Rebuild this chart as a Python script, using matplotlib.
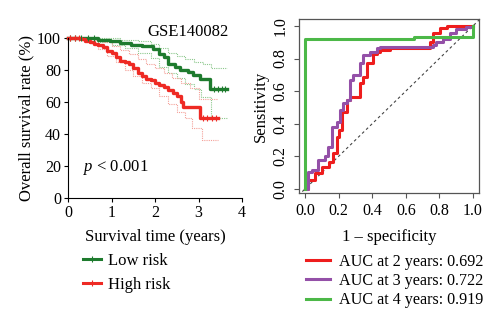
import numpy as np
import matplotlib
matplotlib.use("Agg")
import matplotlib.pyplot as plt
from matplotlib.lines import Line2D

plt.rcParams["font.family"] = ["Liberation Serif", "DejaVu Serif"]
plt.rcParams["font.size"] = 11.5
plt.rcParams["mathtext.fontset"] = "custom"
plt.rcParams["mathtext.it"] = "Liberation Serif:italic"
plt.rcParams["mathtext.rm"] = "Liberation Serif"

# Kaplan-Meier curves (years, % surviving)
low_t = [0, 0.7, 0.97, 1.2, 1.45, 1.7, 1.96, 2.1, 2.2, 2.3, 2.45, 2.57, 2.75, 2.88, 3.03, 3.26, 3.65]
low_s = [100, 99, 98, 97, 96, 95, 93.5, 90, 88, 84, 82, 80, 78.5, 77, 74.5, 68, 68]
high_t = [0, 0.3, 0.4, 0.5, 0.6, 0.7, 0.8, 0.9, 1.0, 1.1, 1.2, 1.3, 1.4, 1.5, 1.6, 1.7,
          1.8, 1.9, 2.0, 2.1, 2.2, 2.3, 2.42, 2.5, 2.6, 2.65, 3.03, 3.45]
high_s = [100, 99.5, 98.5, 97.5, 96.5, 95.5, 94.5, 92, 90.5, 88.5, 86, 85, 84, 81, 78, 76,
          74.5, 73.5, 72, 70.5, 69.5, 67.5, 65.5, 63.5, 60, 57, 50, 50]

# 95% confidence bands
low_up_t = [0, 1.2, 1.6, 1.9, 2.1, 2.3, 2.5, 2.7, 2.9, 3.1, 3.28, 3.65]
low_up_s = [100, 99, 98, 96.5, 94, 91, 89, 87, 85, 84, 81, 81]
low_lo_t = [0, 0.7, 1.0, 1.3, 1.6, 1.9, 2.1, 2.3, 2.5, 2.7, 2.9, 3.05, 3.28, 3.65]
low_lo_s = [100, 97.5, 96, 94, 91, 87.5, 82, 78, 75, 71, 68, 63, 50, 50]
high_up_t = [0, 0.6, 0.8, 1.0, 1.2, 1.4, 1.6, 1.8, 2.0, 2.2, 2.4, 2.6, 2.8, 3.0, 3.45]
high_up_s = [100, 99, 97.5, 95, 92.5, 90, 87, 84, 81, 78, 75, 72, 69, 62, 62]
high_lo_t = [0, 0.35, 0.5, 0.7, 0.9, 1.1, 1.3, 1.5, 1.7, 1.9, 2.1, 2.3, 2.5, 2.7, 2.85, 3.08, 3.45]
high_lo_s = [100, 99, 97, 93, 89, 85, 80, 76, 72, 68.5, 64, 59, 54, 50, 44, 36, 36]

# censoring marks
low_cens_t = [0.05, 0.15, 0.3, 0.45, 0.6, 3.35, 3.45, 3.55, 3.62]
high_cens_t = [0.05, 0.15, 0.25, 3.1, 3.2, 3.3, 3.4]

# time-dependent ROC curves (1 - specificity, sensitivity)
roc2_fpr = [0, 0.02, 0.02, 0.06, 0.06, 0.10, 0.10, 0.14, 0.14, 0.167, 0.167, 0.19, 0.19, 0.20,
            0.20, 0.22, 0.22, 0.248, 0.248, 0.268, 0.268, 0.327, 0.327, 0.347, 0.347, 0.367,
            0.367, 0.407, 0.407, 0.427, 0.427, 0.446, 0.446, 0.506, 0.506, 0.744, 0.744, 0.764,
            0.764, 0.804, 0.804, 0.843, 0.843, 0.883, 0.883, 1.0]
roc2_tpr = [0, 0, 0.055, 0.055, 0.096, 0.096, 0.137, 0.137, 0.167, 0.167, 0.22, 0.22, 0.32, 0.32,
            0.36, 0.36, 0.47, 0.47, 0.546, 0.546, 0.566, 0.566, 0.648, 0.648, 0.689, 0.689,
            0.77, 0.77, 0.83, 0.83, 0.842, 0.842, 0.853, 0.853, 0.862, 0.862, 0.90, 0.90,
            0.954, 0.954, 0.985, 0.985, 1.0, 1.0, 1.0, 1.0]
roc3_fpr = [0, 0.016, 0.016, 0.04, 0.04, 0.08, 0.08, 0.12, 0.12, 0.139, 0.139, 0.159, 0.159,
            0.19, 0.19, 0.208, 0.208, 0.228, 0.228, 0.248, 0.248, 0.268, 0.268, 0.288, 0.288,
            0.327, 0.327, 0.347, 0.347, 0.387, 0.387, 0.427, 0.427, 0.446, 0.446, 0.76, 0.76,
            0.78, 0.78, 0.82, 0.82, 0.863, 0.863, 0.90, 0.90, 0.96, 0.96, 1.0, 1.0]
roc3_tpr = [0, 0, 0.106, 0.106, 0.117, 0.117, 0.178, 0.178, 0.199, 0.199, 0.26, 0.26, 0.38,
            0.38, 0.413, 0.413, 0.485, 0.485, 0.525, 0.525, 0.546, 0.546, 0.669, 0.669, 0.699,
            0.699, 0.77, 0.77, 0.821, 0.821, 0.842, 0.842, 0.862, 0.862, 0.868, 0.868, 0.88,
            0.88, 0.90, 0.90, 0.92, 0.92, 0.954, 0.954, 0.98, 0.98, 0.996, 0.996, 1.0]
roc4_fpr = [0, 0, 0.65, 0.65, 1.0, 1.0]
roc4_tpr = [0, 0.917, 0.917, 0.93, 0.93, 1.0]

auc_labels = ["AUC at 2 years: 0.692", "AUC at 3 years: 0.722", "AUC at 4 years: 0.919"]

GREEN_KM = "#1e7b2e"
RED_KM = "#ee2a24"
GREEN_CI = "#8cc88c"
RED_CI = "#f4a098"
ROC_RED = "#ee1d1d"
ROC_PURPLE = "#9450a8"
ROC_GREEN = "#4cb848"

fig = plt.figure(figsize=(5, 3.26), dpi=100)

# ---- survival panel ----
ax1 = fig.add_axes([0.136, 0.393, 0.348, 0.490])
for t, s, c in [(low_up_t, low_up_s, GREEN_CI), (low_lo_t, low_lo_s, GREEN_CI),
                (high_up_t, high_up_s, RED_CI), (high_lo_t, high_lo_s, RED_CI)]:
    ax1.plot(t, s, drawstyle="steps-post", color=c, lw=0.8, ls=(0, (1, 1)), clip_on=False)
ax1.plot(low_t, low_s, drawstyle="steps-post", color=GREEN_KM, lw=2.4, clip_on=False)
ax1.plot(high_t, high_s, drawstyle="steps-post", color=RED_KM, lw=2.4, clip_on=False)

# censor ticks sit on the step value at each censoring time
low_cens_s = [low_s[np.searchsorted(low_t, t, side="right") - 1] for t in low_cens_t]
high_cens_s = [high_s[np.searchsorted(high_t, t, side="right") - 1] for t in high_cens_t]
ax1.plot(low_cens_t, low_cens_s, ls="none", marker="|", ms=4, mew=0.8, color=GREEN_KM, clip_on=False)
ax1.plot(high_cens_t, high_cens_s, ls="none", marker="|", ms=4, mew=0.8, color=RED_KM, clip_on=False)

ax1.set_xlim(0, 4)
ax1.set_ylim(0, 100)
ax1.set_xticks([0, 1, 2, 3, 4])
ax1.set_yticks([0, 20, 40, 60, 80, 100])
ax1.spines[["top", "right"]].set_visible(False)
ax1.tick_params(direction="out", length=3, width=0.8, pad=2)
ax1.set_xlabel("Survival time (years)", fontsize=12, labelpad=6)
ax1.set_ylabel("Overall survival rate (%)", fontsize=12, labelpad=2)
ax1.text(0.35, 19, r"$p$ < 0.001", fontsize=12, va="center")
ax1.text(3.7, 104, "GSE140082", fontsize=12, ha="right", va="center")

km_handles = [Line2D([], [], color=GREEN_KM, lw=2.2, marker="|", ms=4, mew=0.8),
              Line2D([], [], color=RED_KM, lw=2.2, marker="|", ms=4, mew=0.8)]
fig.legend(km_handles, ["Low risk", "High risk"], loc="upper left",
           bbox_to_anchor=(0.152, 0.244), frameon=False, fontsize=12,
           handlelength=1.1, handletextpad=0.45, labelspacing=0.45, borderaxespad=0)

# ---- ROC panel ----
ax2 = fig.add_axes([0.598, 0.408, 0.360, 0.534])
ax2.plot([-0.04, 1.04], [-0.04, 1.04], color="#444444", lw=0.8, ls=(0, (2.5, 2.5)))
l2, = ax2.plot(roc2_fpr, roc2_tpr, color=ROC_RED, lw=2.2)
l3, = ax2.plot(roc3_fpr, roc3_tpr, color=ROC_PURPLE, lw=2.2)
l4, = ax2.plot(roc4_fpr, roc4_tpr, color=ROC_GREEN, lw=2.2)
ax2.set_xlim(-0.036, 1.036)
ax2.set_ylim(-0.025, 1.043)
ax2.set_xticks(np.arange(0, 1.01, 0.2))
ax2.set_yticks(np.arange(0, 1.01, 0.2))
ax2.set_xticklabels([f"{v:.1f}" for v in np.arange(0, 1.01, 0.2)])
ax2.set_yticklabels([f"{v:.1f}" for v in np.arange(0, 1.01, 0.2)], rotation=90, va="center")
for sp in ax2.spines.values():
    sp.set_color("#555555")
    sp.set_linewidth(0.9)
ax2.tick_params(direction="out", length=3.5, width=0.8, colors="#555555", labelcolor="black", pad=4)
ax2.set_xlabel("1 \u2013 specificity", fontsize=12, labelpad=7)
ax2.set_ylabel("Sensitivity", fontsize=12, labelpad=3)

fig.legend([l2, l3, l4], auc_labels, loc="upper left",
           bbox_to_anchor=(0.6, 0.241), frameon=False, fontsize=11.6,
           handlelength=1.45, handletextpad=0.6, labelspacing=0.2, borderaxespad=0)

fig.savefig("out.png", dpi=100)
